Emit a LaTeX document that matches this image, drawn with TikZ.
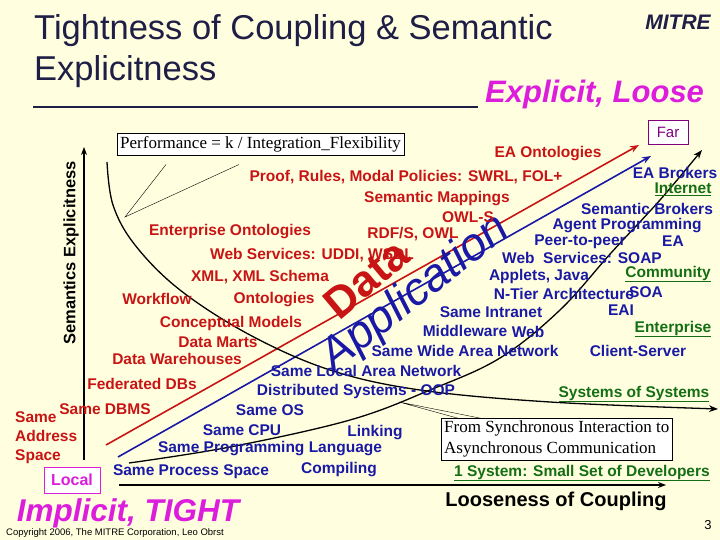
\documentclass[tikz,border=0pt]{standalone}
\usepackage{fontspec}
\setmainfont{Liberation Sans}
\newfontfamily\serifa{Liberation Serif}
\usetikzlibrary{arrows.meta}
\definecolor{bg}{RGB}{255,255,224}
\definecolor{rd}{RGB}{200,20,20}
\definecolor{bl}{RGB}{25,25,165}
\definecolor{gr}{RGB}{20,110,20}
\definecolor{ttl}{RGB}{30,30,70}
\definecolor{mg}{RGB}{220,30,220}
\tikzset{
 r/.style={text=rd,font=\fontsize{15.5}{16}\selectfont\bfseries,inner sep=0pt},
 b/.style={text=bl,font=\fontsize{15.5}{16}\selectfont\bfseries,inner sep=0pt},
 g/.style={text=gr,font=\fontsize{15.5}{16}\selectfont\bfseries,inner sep=0pt},
 ax/.style={black,line width=1.2pt,-{Stealth[length=8pt]}},
 box/.style={draw=black,fill=white,font=\serifa\fontsize{17}{21}\selectfont,align=left,inner sep=3pt}
}
\newcommand{\ul}[1]{\underline{#1}}
\begin{document}
\begin{tikzpicture}[x=1pt,y=-1pt]
\fill[bg] (0,0) rectangle (720,540);
\useasboundingbox (0,0) rectangle (720,540);
% title
\node[anchor=west,text=ttl,font=\fontsize{34.5}{36}\selectfont,inner sep=0pt] (t1) at (34,31) {Tightness of Coupling \& Semantic};
\node[anchor=west,text=ttl,font=\fontsize{34.5}{36}\selectfont,inner sep=0pt] (t2) at (34,72) {Explicitness};
\draw[ttl,line width=1.5pt] (33,107) -- (478,107);
\node[anchor=west,text=mg,font=\fontsize{31}{32}\selectfont\bfseries\itshape,inner sep=0pt] (el) at (485,94) {Explicit, Loose};
\node[text=ttl,font=\fontsize{21}{22}\selectfont\bfseries\itshape,inner sep=0pt] (mitre) at (678,22) {MITRE};
% axes
\coordinate (va0) at (84,460); \coordinate (va1) at (84,147);
\draw[ax] (va0) -- (va1);
\coordinate (ha0) at (119,485); \coordinate (ha1) at (666,485);
\draw[ax] (ha0) -- (ha1);
\node[rotate=90,font=\fontsize{16.5}{17}\selectfont\bfseries,inner sep=0pt] (sem) at (71,253) {Semantics Explicitness};
% red and blue lines
\coordinate (r0) at (106,445); \coordinate (r1) at (639,145);
\draw[rd,line width=1.6pt,-{Stealth[length=9pt]}] (r0) -- (r1);
\coordinate (b0) at (118,457); \coordinate (b1) at (651,156);
\draw[bl,line width=1.6pt,-{Stealth[length=9pt]}] (b0) -- (b1);
% black curves
\draw[black,line width=1.3pt,-{Stealth[length=9pt]}] plot[smooth,tension=0.6] coordinates {(107,162) (113,205) (135,245) (180,290) (250,335) (330,370) (420,390) (550,402) (718,409)};
\draw[black,line width=1.3pt,-{Stealth[length=9pt]}] plot[smooth,tension=0.6] coordinates {(129,463) (230,447) (350,420) (430,390) (500,358) (560,310) (611,253) (660,200) (702,150)};
% callouts
\node[box,anchor=north west] (perf) at (117,133) {Performance = k / Integration\_Flexibility};
\coordinate (pt) at (125,217);
\draw[black] (166,164.5) -- (pt) -- (239,164.5);
\node[box,anchor=north west] (sync) at (441,418) {From Synchronous Interaction to\\Asynchronous Communication};
\coordinate (st) at (399,402);
\draw[black] (459,418.5) -- (st) -- (482,418.5);
\node[draw=mg,fill=white,text=mg,font=\fontsize{16}{17}\selectfont\bfseries,minimum width=56pt,minimum height=26pt,inner sep=0pt] (local) at (72,480) {Local};
\node[draw=violet,fill=white,text=violet,font=\fontsize{15}{16}\selectfont,minimum width=40pt,minimum height=24pt,inner sep=0pt] (far) at (668,132) {Far};
% big words
\node[text=rd,rotate=40,font=\fontsize{44}{44}\selectfont\bfseries,inner sep=0pt] (data) at (366,279) {Data};
\node[text=bl,rotate=38,font=\fontsize{46}{46}\selectfont\itshape,inner sep=0pt] (app) at (416,294) {Application};
% red texts
\node[r] (n1) at (548,154) {EA Ontologies};
\node[r] (n2) at (406,177) {Proof, Rules, Modal Policies: SWRL, FOL+};
\node[r] (n3) at (437,199) {Semantic Mappings};
\node[r] (n4) at (468,217) {OWL-S};
\node[r] (n5) at (230,232) {Enterprise Ontologies};
\node[r] (n6) at (413,234) {RDF/S, OWL};
\node[r] (n7) at (312,255) {Web Services: UDDI, WSDL};
\node[r] (n8) at (260,277) {XML, XML Schema};
\node[r] (n9) at (157,299) {Workflow};
\node[r] (n10) at (274,300) {Ontologies};
\node[r] (n11) at (231,323) {Conceptual Models};
\node[r] (n12) at (218,342) {Data Marts};
\node[r] (n13) at (177,359) {Data Warehouses};
\node[r] (n14) at (142,384) {Federated DBs};
\node[r] (n15) at (105,409) {Same DBMS};
\node[r,anchor=north west,align=left,font=\fontsize{15.5}{19}\selectfont\bfseries] (n16) at (15,411) {Same\\Address\\Space};
% blue texts
\node[b] (m1) at (675,173) {EA Brokers};
\node[b] (m2) at (647,209) {Semantic Brokers};
\node[b] (m3) at (627,226) {Agent Programming};
\node[b] (m4) at (580,242) {Peer-to-peer};
\node[b] (m5) at (673,241) {EA};
\node[b] (m6) at (582,258) {Web\ \ Services: SOAP};
\node[b] (m7) at (539,276) {Applets, Java};
\node[b] (m8) at (564,294) {N-Tier Architecture};
\node[b] (m9) at (646,292) {SOA};
\node[b] (m10) at (491,312) {Same Intranet};
\node[b] (m11) at (621,310) {EAI};
\node[b] (m12) at (465,331) {Middleware};
\node[b] (m13) at (528,332) {Web};
\node[b] (m14) at (465,351) {Same Wide Area Network};
\node[b] (m15) at (638,351) {Client-Server};
\node[b] (m16) at (366,371) {Same Local Area Network};
\node[b] (m17) at (356,391) {Distributed Systems - OOP};
\node[b] (m18) at (270,410) {Same OS};
\node[b] (m19) at (242,430) {Same CPU};
\node[b] (m20) at (375,433) {Linking};
\node[b] (m21) at (270,449) {Same Programming Language};
\node[b] (m22) at (191,472) {Same Process Space};
\node[b] (m23) at (339,470) {Compiling};
% green
\node[g] (g1) at (683,189) {\ul{Internet}};
\node[g] (g2) at (668,274) {\ul{Community}};
\node[g] (g3) at (673,329) {\ul{Enterprise}};
\node[g] (g4) at (634,394) {\ul{Systems of Systems}};
\node[g] (g5) at (582,473) {\ul{1 System: Small Set of Developers}};
% bottom
\node[font=\fontsize{20}{22}\selectfont\bfseries,inner sep=0pt] (loose) at (556,501) {Looseness of Coupling};
\node[text=mg,font=\fontsize{31.5}{32}\selectfont\bfseries\itshape,inner sep=0pt] (tight) at (128,513) {Implicit, TIGHT};
\node[font=\fontsize{9.5}{10}\selectfont,inner sep=0pt] (copy) at (115,533) {Copyright 2006, The MITRE Corporation, Leo Obrst};
\node[font=\fontsize{13}{14}\selectfont,inner sep=0pt] (pg) at (708,525) {3};
\end{tikzpicture}
\end{document}
